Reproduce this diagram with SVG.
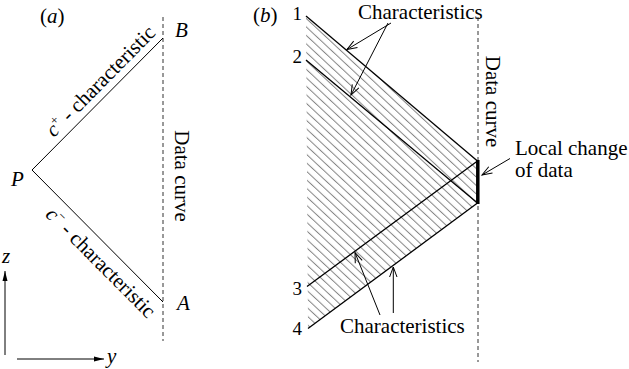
<svg xmlns="http://www.w3.org/2000/svg" width="629" height="369" viewBox="0 0 629 369">
<style>
text{font-family:'Liberation Serif','Times New Roman',Times,serif;fill:#000}
.w{font-size:21px}
.d{font-size:19px}
.it{font-style:italic}
.ln{stroke:#000;fill:none;stroke-width:1}
.bl{stroke:#000;fill:none;stroke-width:1.3}
.dash{stroke:#333;stroke-width:1;stroke-dasharray:4 3;fill:none}
.arr{stroke:#000;stroke-width:1;fill:none;marker-end:url(#ah)}
</style>
<defs>
<marker id="ah" markerUnits="userSpaceOnUse" markerWidth="14" markerHeight="10" refX="11" refY="5" orient="auto" viewBox="0 0 14 10">
<path d="M1,1.3 L11,5 L1,8.7" fill="none" stroke="#000" stroke-width="1"/>
</marker>
<marker id="ax" markerUnits="userSpaceOnUse" markerWidth="12" markerHeight="8" refX="10" refY="4" orient="auto" viewBox="0 0 12 8">
<path d="M0,1.5 L10,4 L0,6.5 z" fill="#000"/>
</marker>
<pattern id="hatch" patternUnits="userSpaceOnUse" width="10" height="6.2" patternTransform="rotate(43)">
<line x1="-1" y1="3" x2="11" y2="3" stroke="#777" stroke-width="0.9"/>
</pattern>
</defs>

<g id="panel-a">
<text class="w" x="40" y="23">(<tspan class="it">a</tspan>)</text>
<line id="data-curve-a" class="dash" x1="163" y1="17" x2="163" y2="341"/>
<g id="connectors-a">
<polyline class="ln" points="163,38 32,170 163,302"/>
</g>
<g id="node-P"><text class="w it" x="11" y="186">P</text></g>
<g id="node-B"><text class="w it" x="175" y="37">B</text></g>
<g id="node-A"><text class="w it" x="177" y="310">A</text></g>
<text class="w" transform="translate(174.5,176) rotate(90)" text-anchor="middle">Data curve</text>
<text class="w" transform="translate(54,138) rotate(-45.4)"><tspan class="it">c</tspan><tspan font-size="13" dy="-8">+</tspan><tspan dy="8"> - characteristic</tspan></text>
<text class="w" transform="translate(44.5,215.5) rotate(45.2)"><tspan class="it">c</tspan><tspan font-size="13" dy="-8">−</tspan><tspan dy="8"> - characteristic</tspan></text>
<g id="axes">
<line class="ln" x1="5" y1="355" x2="5" y2="271" marker-end="url(#ax)"/>
<line class="ln" x1="17" y1="359" x2="104" y2="359" marker-end="url(#ax)"/>
<text class="w it" x="2" y="263">z</text>
<text class="w it" x="107" y="363">y</text>
</g>
</g>

<g id="panel-b">
<text class="w" x="253" y="22">(<tspan class="it">b</tspan>)</text>
<polygon id="hatched-region" points="306,16 477.5,161 477.5,203 308,328.5" fill="url(#hatch)" stroke="none"/>
<line id="data-curve-b" class="dash" x1="478" y1="17" x2="478" y2="362"/>
<g id="connectors-b">
<line class="bl" x1="306" y1="16" x2="477.5" y2="161"/>
<line class="bl" x1="306" y1="60" x2="477.5" y2="203"/>
<line class="bl" x1="307" y1="286.5" x2="477.5" y2="161"/>
<line class="bl" x1="308" y1="328.5" x2="477.5" y2="203"/>
<line id="local-change" x1="477.8" y1="160" x2="477.8" y2="204" stroke="#000" stroke-width="3.5"/>
<line class="arr" x1="391" y1="23" x2="347" y2="49.5"/>
<line class="arr" x1="388" y1="23" x2="351" y2="95"/>
<line class="arr" x1="380" y1="315" x2="355" y2="252.5"/>
<line class="arr" x1="393.3" y1="313" x2="393.3" y2="267"/>
<line class="arr" x1="510" y1="158.5" x2="482" y2="175"/>
</g>
<g id="labels-b">
<text class="d" x="302" y="20" text-anchor="end">1</text>
<text class="d" x="302" y="63" text-anchor="end">2</text>
<text class="d" x="302" y="295" text-anchor="end">3</text>
<text class="d" x="302" y="335" text-anchor="end">4</text>
<text class="w" x="358" y="19">Characteristics</text>
<text class="w" x="340" y="333">Characteristics</text>
<text class="w" x="515" y="155">Local change</text>
<text class="w" x="515" y="177">of data</text>
<text class="w" transform="translate(486,101.5) rotate(90)" text-anchor="middle">Data curve</text>
</g>
</g>
</svg>
